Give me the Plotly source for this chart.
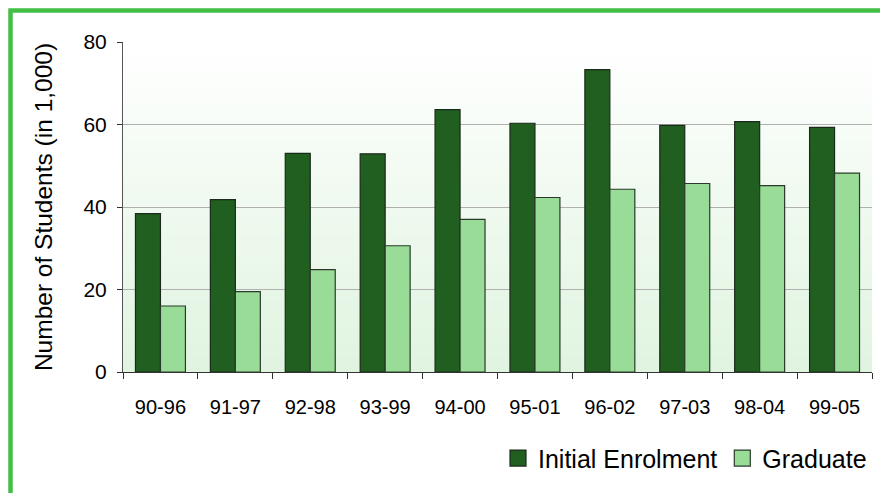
import plotly.graph_objects as go

# ---- data ----
categories = ["90-96", "91-97", "92-98", "93-99", "94-00", "95-01", "96-02", "97-03", "98-04", "99-05"]
initial_enrolment = [38.4, 41.8, 53.0, 52.9, 63.6, 60.3, 73.3, 59.8, 60.7, 59.3]
graduate = [16.0, 19.5, 24.8, 30.6, 37.0, 42.3, 44.3, 45.7, 45.2, 48.2]
y_ticks = [0, 20, 40, 60, 80]

series_names = ["Initial Enrolment", "Graduate"]
series_colors = ["#215F21", "#98DC98"]
series_lines = ["#1A2A1A", "#2A3A2A"]
series_values = [initial_enrolment, graduate]

# page has an 8px body margin: figure is drawn 8px right/down of the window corner
OFF = 8
W, H = 888 - OFF, 493 - OFF
L, R, T, B = 123 - OFF, 16, 42 - OFF, 493 - 372.5

fig = go.Figure()
for name, vals, col, lc in zip(series_names, series_values, series_colors, series_lines):
    fig.add_trace(go.Bar(x=categories, y=vals, name=name, legendgroup=name, showlegend=False,
                         marker=dict(color=col, line=dict(color=lc, width=1.2))))
# legend entries (square swatches like the original legend)
for name, col, lc in zip(series_names, series_colors, series_lines):
    fig.add_trace(go.Scatter(x=[None], y=[None], mode="markers", name=name, legendgroup=name,
                             marker=dict(symbol="square", size=16, color=col,
                                         line=dict(color=lc, width=1.2)),
                             hoverinfo="skip"))

# gradient plot background (white at top -> light green at bottom)
N = 60
top = (255, 255, 255)
bot = (224, 244, 224)
shapes = []
for i in range(N):
    f = (i + 0.5) / N  # 0 bottom -> 1 top
    c = tuple(round(bot[k] + (top[k] - bot[k]) * f) for k in range(3))
    shapes.append(dict(type="rect", xref="x domain", yref="y domain",
                       x0=0, x1=1, y0=i / N, y1=(i + 1) / N + 0.002,
                       fillcolor="rgb(%d,%d,%d)" % c, line=dict(width=0), layer="below"))

# helpers: screen pixel -> paper coordinate
pw, ph = W - L - R, H - T - B
def px(x):
    return (x - OFF - L) / pw
def py(y):
    return (H - B - (y - OFF)) / ph

# green frame (top & left edge of the outer chart border)
shapes.append(dict(type="rect", xref="paper", yref="paper",
                   x0=px(10.5), x1=px(920), y0=py(530), y1=py(10.5),
                   line=dict(color="#44BE44", width=4.5), fillcolor="rgba(0,0,0,0)", layer="above"))

font = "Liberation Sans, Arial, sans-serif"
fig.update_layout(
    width=W, height=H,
    margin=dict(l=L, r=R, t=T, b=B, pad=0),
    paper_bgcolor="white",
    plot_bgcolor="rgba(0,0,0,0)",
    barmode="group",
    bargap=0.333,
    bargroupgap=0,
    font=dict(family=font, size=20, color="#000000"),
    shapes=shapes,
    showlegend=True,
    legend=dict(orientation="h", x=px(872), xanchor="right", y=py(459), yanchor="middle",
                font=dict(size=25, family=font), bgcolor="rgba(0,0,0,0)",
                itemsizing="trace", traceorder="normal"),
    xaxis=dict(type="category", showline=True, linecolor="#333333", linewidth=1,
               ticks="outside", tickson="boundaries", ticklen=6, tickcolor="#333333",
               tickfont=dict(size=20), showgrid=False, ticklabelstandoff=17),
    yaxis=dict(range=[0, 80], tickvals=y_ticks, showline=True, linecolor="#555555", linewidth=1,
               ticks="outside", ticklen=5, tickcolor="#333333", tickfont=dict(size=21),
               showgrid=True, gridcolor="#B0B0B0", gridwidth=1.2, zeroline=False,
               ticklabelstandoff=6,
               title=dict(text="Number of Students (in 1,000)", font=dict(size=24.5), standoff=23)),
)

fig.write_html("out.html")
